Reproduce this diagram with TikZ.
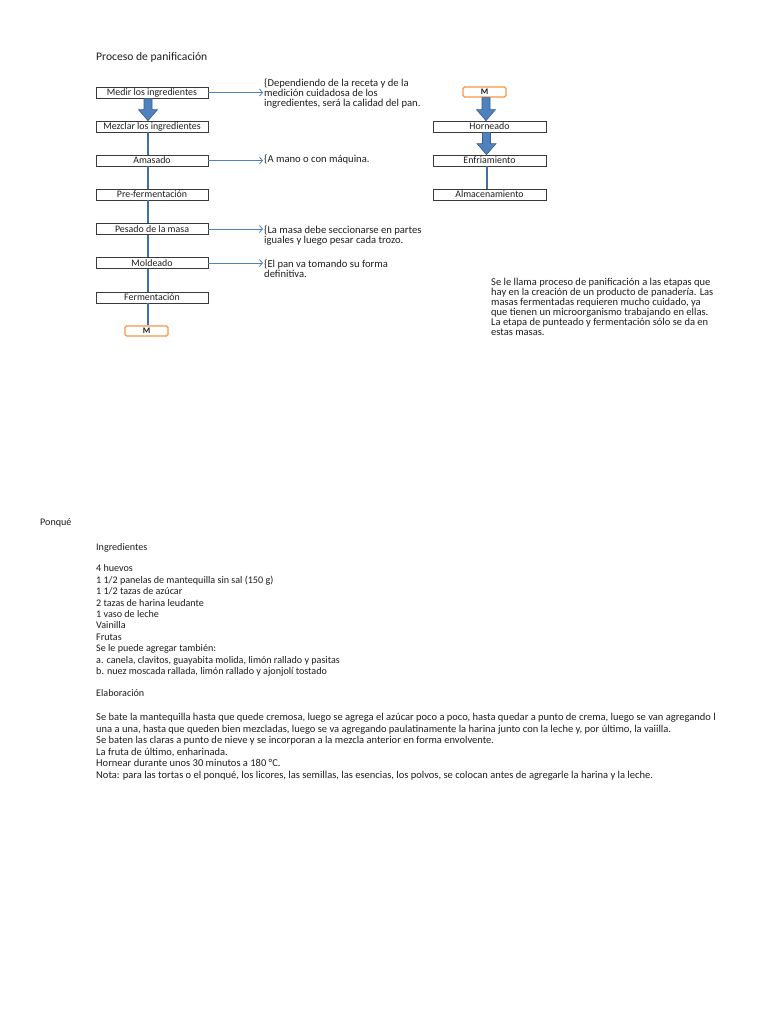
\documentclass[tikz,border=0pt]{standalone}
\usepackage{fontspec}
\setmainfont{Carlito}
\usetikzlibrary{arrows.meta,calc}
\definecolor{boxline}{HTML}{3A3A3A}
\definecolor{bluefill}{HTML}{4F81BD}
\definecolor{blueline}{HTML}{385D8A}
\definecolor{connblue}{HTML}{3F6FA8}
\definecolor{orangeline}{HTML}{F79646}
\definecolor{txt}{HTML}{1E1E1E}
\tikzset{
  stepbox/.style={draw=boxline, line width=0.7pt, rectangle, minimum width=112pt, minimum height=11pt, inner sep=0pt, font=\fontsize{9.9}{10}\selectfont, text=txt},
  mbox/.style={draw=orangeline, line width=1.2pt, rounded corners=1.5pt, rectangle, minimum width=43pt, minimum height=10pt, inner sep=0pt, font=\fontsize{8.5}{9}\selectfont\bfseries, text=txt},
  conn/.style={draw=connblue, line width=1.8pt},
  harrow/.style={draw=bluefill, line width=0.8pt, -{Straight Barb[length=3pt,width=7pt,line width=0.8pt]}},
  barrow/.style={fill=bluefill, draw=blueline, line width=0.6pt},
  note/.style={inner sep=0pt, align=left, font=\fontsize{10.6}{10}\selectfont, text=txt},
  para/.style={inner sep=0pt, align=left, font=\fontsize{10.5}{10}\selectfont, text=txt},
  body/.style={inner sep=0pt, align=left, font=\fontsize{10.1}{11.43}\selectfont, text=txt},
  elabbody/.style={inner sep=0pt, align=left, font=\fontsize{10.5}{11.43}\selectfont, text=txt},
}
\newcommand{\blockarr}[3]{%
  \path[barrow] let \p1=([xshift=#3]#1.south), \p2=([xshift=#3]#2.north) in
    (\x1-4pt,\y1) -- (\x1+4pt,\y1) -- (\x1+4pt,\y2+11pt) -- (\x1+9.5pt,\y2+11pt) --
    (\x1,\y2) -- (\x1-9.5pt,\y2+11pt) -- (\x1-4pt,\y2+11pt) -- cycle;}
\begin{document}
\begin{tikzpicture}[x=1pt,y=-1pt]
\useasboundingbox (0,0) rectangle (768,1024);
\fill[white] (0,0) rectangle (768,1024);

% title
\node[inner sep=0pt, font=\fontsize{11.6}{12}\selectfont, text=txt, anchor=base west] (title) at (96,61) {Proceso de panificación};

% left column boxes
\node[stepbox] (medir) at (152,92.5) {Medir los ingredientes};
\node[stepbox] (mezclar) at (152,126.5) {Mezclar los ingredientes};
\node[stepbox] (amasado) at (152,160.5) {Amasado};
\node[stepbox] (prefer) at (152,194.5) {Pre-fermentación};
\node[stepbox] (pesado) at (152,229) {Pesado de la masa};
\node[stepbox] (moldeado) at (152,263) {Moldeado};
\node[stepbox] (ferment) at (152,297.5) {Fermentación};
\node[mbox] (m1) at (146.5,331) {M};

% right column
\node[mbox] (m2) at (484.5,92) {M};
\node[stepbox, minimum width=113pt] (homeado) at (489.5,126.5) {Horneado};
\node[stepbox, minimum width=113pt] (enfria) at (489.5,160.5) {Enfriamiento};
\node[stepbox, minimum width=113pt] (almac) at (489.5,194.5) {Almacenamiento};

% thin connectors (left)
\draw[conn] ([xshift=-4pt]mezclar.south) -- ([xshift=-4pt]amasado.north);
\draw[conn] ([xshift=-4pt]amasado.south) -- ([xshift=-4pt]prefer.north);
\draw[conn] ([xshift=-4pt]prefer.south) -- ([xshift=-4pt]pesado.north);
\draw[conn] ([xshift=-4pt]pesado.south) -- ([xshift=-4pt]moldeado.north);
\draw[conn] ([xshift=-4pt]moldeado.south) -- ([xshift=-4pt]ferment.north);
\draw[conn] ([xshift=-4pt]ferment.south) -- ([xshift=-4pt]ferment.south |- m1.north);
% thin connector (right)
\draw[conn] ([xshift=-2.5pt]enfria.south) -- ([xshift=-2.5pt]almac.north);

% block arrows
\blockarr{medir}{mezclar}{-4pt}
\blockarr{m2}{homeado}{1.5pt}
\blockarr{homeado}{enfria}{-3pt}

% notes
\node[note, anchor=north west] (n1) at (264,78.5) {\{Dependiendo de la receta y de la\\medición cuidadosa de los\\ingredientes, será la calidad del pan.};
\node[note, anchor=base west] (n2) at (264,163) {\{A mano o con máquina.};
\node[note, anchor=north west] (n3) at (264,225.5) {\{La masa debe seccionarse en partes\\iguales y luego pesar cada trozo.};
\node[note, anchor=north west] (n4) at (264,259.5) {\{El pan va tomando su forma\\definitiva.};

\draw[harrow] (medir.east) -- ([xshift=-1pt]medir.east -| n1.west);
\draw[harrow] (amasado.east) -- ([xshift=-1pt]amasado.east -| n2.west);
\draw[harrow] (pesado.east) -- ([xshift=-1pt]pesado.east -| n3.west);
\draw[harrow] (moldeado.east) -- ([xshift=-1pt]moldeado.east -| n4.west);

% right paragraph
\node[para, anchor=north west] (para) at (491,278.5) {Se le llama proceso de panificación a las etapas que\\hay en la creación de un producto de panadería. Las\\masas fermentadas requieren mucho cuidado, ya\\que tienen un microorganismo trabajando en ellas.\\La etapa de punteado y fermentación sólo se da en\\estas masas.};

% recipe
\node[body, anchor=base west] (ponque) at (40,525) {Ponqué};
\node[body, anchor=base west] (ingr) at (96,550) {Ingredientes};
\node[body, anchor=north west] (lista) at (96,564.5) {4 huevos\\1 1/2 panelas de mantequilla sin sal (150 g)\\1 1/2 tazas de azúcar\\2 tazas de harina leudante\\1 vaso de leche\\Vainilla\\Frutas\\Se le puede agregar también:\\a. canela, clavitos, guayabita molida, limón rallado y pasitas\\b. nuez moscada rallada, limón rallado y ajonjolí tostado};
\node[body, anchor=base west] (elab) at (96,696) {Elaboración};
\node[elabbody, anchor=north west] (elabtxt) at (96,713.5) {Se bate la mantequilla hasta que quede cremosa, luego se agrega el azúcar poco a poco, hasta quedar a punto de crema, luego se van agregando l\\una a una, hasta que queden bien mezcladas, luego se va agregando paulatinamente la harina junto con la leche y, por último, la vaiilla.\\Se baten las claras a punto de nieve y se incorporan a la mezcla anterior en forma envolvente.\\La fruta de último, enharinada.\\Hornear durante unos 30 minutos a 180 °C.\\Nota: para las tortas o el ponqué, los licores, las semillas, las esencias, los polvos, se colocan antes de agregarle la harina y la leche.};
\end{tikzpicture}
\end{document}
